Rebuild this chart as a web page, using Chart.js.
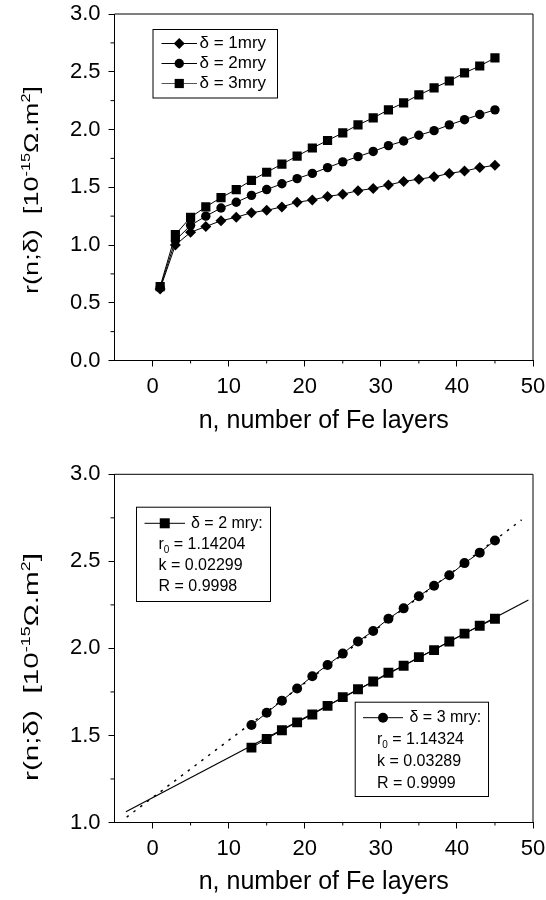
<!DOCTYPE html>
<html>
<head>
<meta charset="utf-8">
<script src="https://cdn.jsdelivr.net/npm/chart.js@4.4.1/dist/chart.umd.min.js"></script>
<style>
    body { margin: 0; background: #fff; }
    .panel { position: absolute; left: 0; width: 546px; height: 450px; }
</style>
</head>
<body>
<div class="panel" style="top:0"><canvas id="topChart" width="546" height="450"></canvas></div>
<div class="panel" style="top:450px"><canvas id="bottomChart" width="546" height="450"></canvas></div>
<script>
// n, number of Fe layers
const layers = [1, 3, 5, 7, 9, 11, 13, 15, 17, 19, 21, 23, 25, 27, 29, 31, 33, 35, 37, 39, 41, 43, 45];
// r(n;δ) for δ = 1, 2, 3 mry
const rDelta1 = [0.62, 1.00, 1.11, 1.16, 1.21, 1.24, 1.28, 1.30, 1.33, 1.37, 1.39, 1.42, 1.44, 1.47, 1.49, 1.52, 1.55, 1.57, 1.59, 1.62, 1.64, 1.67, 1.69];
const rDelta2 = [0.63, 1.04, 1.17, 1.25, 1.32, 1.37, 1.43, 1.48, 1.53, 1.575, 1.62, 1.67, 1.72, 1.765, 1.81, 1.86, 1.90, 1.95, 1.99, 2.04, 2.085, 2.13, 2.17];
const rDelta3 = [0.64, 1.09, 1.24, 1.33, 1.41, 1.48, 1.56, 1.63, 1.70, 1.77, 1.84, 1.905, 1.97, 2.04, 2.10, 2.17, 2.23, 2.30, 2.36, 2.42, 2.49, 2.55, 2.62];
// first layer used in the linear fits (n = 13)
const fitStart = 6;
// ends of the fitted lines as drawn
const fitX2 = [-3.5, 49.4];
const fitY2 = [1.062, 2.278];
const fitX3 = [-3.4, 48.5];
const fitY3 = [1.031, 2.738];
const fitStats2 = ["1.14204", "0.02299", "0.9998"];
const fitStats3 = ["1.14324", "0.03289", "0.9999"];

const xTicks = [0, 10, 20, 30, 40, 50];
const xMinor = [5, 15, 25, 35, 45];
const yTicksTop = [0, 0.5, 1.0, 1.5, 2.0, 2.5, 3.0];
const yMinorTop = [0.25, 0.75, 1.25, 1.75, 2.25, 2.75];
const yTicksBottom = [1.0, 1.5, 2.0, 2.5, 3.0];
const yMinorBottom = [1.25, 1.75, 2.25, 2.75];

const FONT = "'Liberation Sans', Arial, sans-serif";
const INK = "#000";

function pts(xs, ys) {
    return xs.map((x, i) => ({ x: x, y: ys[i] }));
}

// Frame, minor ticks, y title and the legend boxes
const decorations = {
    id: "decorations",
    afterDraw(chart, args, opts) {
        const ctx = chart.ctx;
        const a = chart.chartArea;
        const sx = chart.scales.x, sy = chart.scales.y;
        ctx.save();
        ctx.strokeStyle = INK;
        ctx.lineWidth = 1;
        ctx.beginPath();
        ctx.moveTo(a.left, a.top); ctx.lineTo(a.right, a.top); ctx.lineTo(a.right, a.bottom);
        opts.minorX.forEach(v => {
            const p = sx.getPixelForValue(v);
            ctx.moveTo(p, a.bottom); ctx.lineTo(p, a.bottom + 3);
        });
        opts.minorY.forEach(v => {
            const p = sy.getPixelForValue(v);
            ctx.moveTo(a.left, p); ctx.lineTo(a.left - 4, p);
        });
        ctx.stroke();

        drawYTitle(ctx, opts.yTitle);
        opts.legends.forEach(lg => drawLegend(ctx, lg));
        ctx.restore();
    }
};

function drawYTitle(ctx, t) {
    const f = t.size, s = Math.round(f * 0.62), rise = f * 0.42;
    const parts = [
        { text: "r(n;\u03b4)  [10", size: f, dy: 0 },
        { text: "-15", size: s, dy: -rise },
        { text: "\u03a9.m", size: f, dy: 0 },
        { text: "2", size: s, dy: -rise },
        { text: "]", size: f, dy: 0 }
    ];
    let w = 0;
    parts.forEach(p => { ctx.font = p.size + "px " + FONT; p.w = ctx.measureText(p.text).width; w += p.w; });
    ctx.save();
    ctx.translate(t.x, t.y);
    ctx.rotate(-Math.PI / 2);
    ctx.scale(t.length / w, 1);
    ctx.fillStyle = INK;
    ctx.textBaseline = "alphabetic";
    let x = -w / 2;
    parts.forEach(p => {
        ctx.font = p.size + "px " + FONT;
        ctx.fillText(p.text, x, p.dy);
        x += p.w;
    });
    ctx.restore();
}

function drawMarker(ctx, style, x, y, r) {
    ctx.beginPath();
    if (style === "circle") {
        ctx.arc(x, y, r, 0, Math.PI * 2);
    } else if (style === "rect") {
        ctx.rect(x - r, y - r, 2 * r, 2 * r);
    } else {
        ctx.moveTo(x, y - r); ctx.lineTo(x + r, y); ctx.lineTo(x, y + r); ctx.lineTo(x - r, y);
        ctx.closePath();
    }
    ctx.fill();
}

function drawLegend(ctx, lg) {
    ctx.fillStyle = "#fff";
    ctx.fillRect(lg.box[0], lg.box[1], lg.box[2] - lg.box[0], lg.box[3] - lg.box[1]);
    ctx.strokeStyle = INK;
    ctx.lineWidth = 1;
    ctx.strokeRect(lg.box[0] + 0.5, lg.box[1] + 0.5, lg.box[2] - lg.box[0], lg.box[3] - lg.box[1]);
    ctx.fillStyle = INK;
    ctx.textBaseline = "middle";
    ctx.textAlign = "left";
    lg.rows.forEach(row => {
        if (row.marker) {
            ctx.strokeStyle = row.lineColor || INK;
            ctx.beginPath();
            ctx.moveTo(row.line[0], row.y); ctx.lineTo(row.line[1], row.y);
            ctx.stroke();
            drawMarker(ctx, row.marker, (row.line[0] + row.line[1]) / 2, row.y, row.r);
        }
        ctx.font = lg.size + "px " + FONT;
        if (row.sub) {
            // r with subscript 0
            ctx.fillText(row.pre, row.x, row.y);
            let x = row.x + ctx.measureText(row.pre).width;
            ctx.font = Math.round(lg.size * 0.65) + "px " + FONT;
            ctx.fillText(row.sub, x, row.y + lg.size * 0.3);
            x += ctx.measureText(row.sub).width;
            ctx.font = lg.size + "px " + FONT;
            ctx.fillText(row.text, x, row.y);
        } else {
            ctx.fillText(row.text, row.x, row.y);
        }
    });
}

function buildChart(id, cfg) {
    const tickFont = { family: FONT, size: 22 };
    new Chart(document.getElementById(id), {
        type: "scatter",
        data: { datasets: cfg.datasets },
        options: {
            responsive: false,
            animation: false,
            devicePixelRatio: 1,
            layout: { padding: { top: cfg.top, right: 13, bottom: 0, left: 0 } },
            plugins: {
                legend: { display: false },
                tooltip: { enabled: false },
                decorations: cfg.decor
            },
            scales: {
                x: {
                    type: "linear", min: -5, max: 50,
                    afterBuildTicks: s => { s.ticks = xTicks.map(v => ({ value: v })); },
                    afterFit: s => { s.height = cfg.xHeight; s.paddingLeft = 0; s.paddingRight = 0; },
                    grid: { drawOnChartArea: false, tickLength: 6, color: INK },
                    border: { display: true, color: INK, width: 1 },
                    ticks: { font: tickFont, color: INK, padding: 7, autoSkip: false, maxRotation: 0 },
                    title: {
                        display: true, text: "n, number of Fe layers", color: INK,
                        font: { family: FONT, size: 25 }, padding: { top: 0, bottom: cfg.titlePad }
                    }
                },
                y: {
                    type: "linear", min: cfg.yTicks[0], max: cfg.yTicks[cfg.yTicks.length - 1],
                    afterBuildTicks: s => { s.ticks = cfg.yTicks.map(v => ({ value: v })); },
                    afterFit: s => { s.width = 114.5; s.paddingTop = 0; s.paddingBottom = 0; },
                    grid: { drawOnChartArea: false, tickLength: 6, color: INK },
                    border: { display: true, color: INK, width: 1 },
                    ticks: { font: tickFont, color: INK, padding: 8, callback: v => v.toFixed(1) }
                }
            }
        },
        plugins: [decorations]
    });
}

function series(label, xs, ys, style, r) {
    return {
        label: label, data: pts(xs, ys), showLine: true,
        borderColor: INK, borderWidth: 1, backgroundColor: INK,
        pointStyle: style, pointRadius: r, pointBorderWidth: 0, pointBackgroundColor: INK
    };
}

buildChart("topChart", {
    top: 14, xHeight: 89.5, titlePad: 14, yTicks: yTicksTop,
    datasets: [
        series("\u03b4 = 1mry", layers, rDelta1, "rectRot", 5.5),
        series("\u03b4 = 2mry", layers, rDelta2, "circle", 4.7),
        series("\u03b4 = 3mry", layers, rDelta3, "rect", 6.5)
    ],
    decor: {
        minorX: xMinor, minorY: yMinorTop,
        yTitle: { x: 38, y: 190, size: 20, length: 208 },
        legends: [{
            box: [152.5, 29, 277, 97.5], size: 17,
            rows: [
                { y: 43.5, line: [161.5, 197], marker: "diamond", r: 5.5, x: 199.5, text: "\u03b4 = 1mry" },
                { y: 63.5, line: [161.5, 197], marker: "circle", r: 4.7, x: 199.5, text: "\u03b4 = 2mry" },
                { y: 83.5, line: [161.5, 197], marker: "rect", r: 4.6, x: 199.5, text: "\u03b4 = 3mry", lineColor: "#555" }
            ]
        }]
    }
});

buildChart("bottomChart", {
    top: 24.3, xHeight: 77.5, titlePad: 3, yTicks: yTicksBottom,
    datasets: [
        Object.assign(series("fit 2", fitX2, fitY2, "circle", 0), { borderWidth: 1.2 }),
        Object.assign(series("fit 3", fitX3, fitY3, "circle", 0), { borderWidth: 1.5, borderDash: [2.5, 6] }),
        series("\u03b4 = 2 mry:", layers.slice(fitStart), rDelta2.slice(fitStart), "rect", 7),
        series("\u03b4 = 3 mry:", layers.slice(fitStart), rDelta3.slice(fitStart), "circle", 5)
    ],
    decor: {
        minorX: xMinor, minorY: yMinorBottom,
        yTitle: { x: 38, y: 217, size: 20, length: 228 },
        legends: [{
            box: [136, 56.7, 270, 151], size: 16,
            rows: [
                { y: 73.3, line: [144.5, 185], marker: "rect", r: 5, x: 191, text: "\u03b4 = 2 mry:" },
                { y: 95, x: 158.5, pre: "r", sub: "0", text: " = " + fitStats2[0] },
                { y: 116, x: 158.5, text: "k = " + fitStats2[1] },
                { y: 136.7, x: 158.5, text: "R = " + fitStats2[2] }
            ]
        }, {
            box: [354.7, 251.7, 488, 346], size: 16,
            rows: [
                { y: 267.7, line: [363, 403], marker: "circle", r: 5, x: 409.5, text: "\u03b4 = 3 mry:" },
                { y: 290, x: 377, pre: "r", sub: "0", text: " = " + fitStats3[0] },
                { y: 311.7, x: 377, text: "k = " + fitStats3[1] },
                { y: 333.3, x: 377, text: "R = " + fitStats3[2] }
            ]
        }]
    }
});
</script>
</body>
</html>
